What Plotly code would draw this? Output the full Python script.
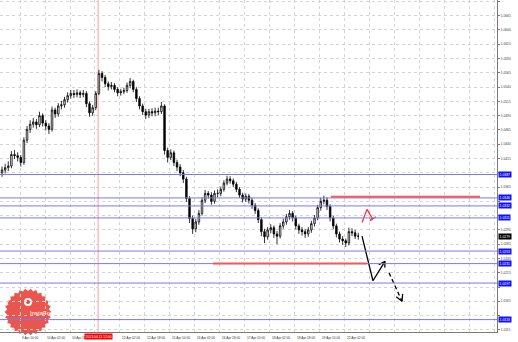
import math
import plotly.graph_objects as go

# ---------------- data (2-hour candles) ----------------
opens = [1.0390, 1.0395, 1.0399, 1.0402, 1.0422, 1.0420, 1.0417, 1.0408, 1.0447, 1.0466,
         1.0475, 1.0479, 1.0474, 1.0490, 1.0477, 1.0472, 1.0466, 1.0500, 1.0493, 1.0507,
         1.0509, 1.0518, 1.0525, 1.0529, 1.0527, 1.0530, 1.0527, 1.0529, 1.0511, 1.0495,
         1.0504, 1.0529, 1.0564, 1.0557, 1.0546, 1.0541, 1.0543, 1.0536, 1.0530, 1.0532,
         1.0534, 1.0543, 1.0550, 1.0536, 1.0520, 1.0507, 1.0497, 1.0491, 1.0497, 1.0495,
         1.0498, 1.0497, 1.0507, 1.0429, 1.0417, 1.0425, 1.0408, 1.0400, 1.0390, 1.0379,
         1.0345, 1.0310, 1.0292, 1.0304, 1.0319, 1.0342, 1.0354, 1.0351, 1.0340, 1.0354,
         1.0354, 1.0361, 1.0372, 1.0379, 1.0376, 1.0370, 1.0361, 1.0351, 1.0344, 1.0349,
         1.0342, 1.0333, 1.0324, 1.0308, 1.0287, 1.0278, 1.0290, 1.0294, 1.0283, 1.0279,
         1.0297, 1.0304, 1.0313, 1.0319, 1.0311, 1.0297, 1.0290, 1.0287, 1.0283, 1.0290,
         1.0301, 1.0311, 1.0329, 1.0340, 1.0342, 1.0331, 1.0311, 1.0297, 1.0283, 1.0274,
         1.0271, 1.0267, 1.0287, 1.0285, 1.0279]
highs = [1.0401, 1.0406, 1.0410, 1.0428, 1.0430, 1.0426, 1.0421, 1.0452, 1.0472, 1.0482,
         1.0486, 1.0484, 1.0497, 1.0494, 1.0482, 1.0477, 1.0506, 1.0504, 1.0512, 1.0516,
         1.0523, 1.0531, 1.0535, 1.0535, 1.0536, 1.0534, 1.0535, 1.0533, 1.0515, 1.0509,
         1.0533, 1.0570, 1.0568, 1.0561, 1.0550, 1.0549, 1.0547, 1.0540, 1.0537, 1.0539,
         1.0548, 1.0556, 1.0553, 1.0540, 1.0524, 1.0511, 1.0502, 1.0502, 1.0503, 1.0504,
         1.0504, 1.0514, 1.0510, 1.0434, 1.0431, 1.0429, 1.0413, 1.0405, 1.0395, 1.0383,
         1.0349, 1.0315, 1.0309, 1.0325, 1.0347, 1.0360, 1.0358, 1.0356, 1.0359, 1.0361,
         1.0366, 1.0377, 1.0385, 1.0384, 1.0380, 1.0374, 1.0365, 1.0355, 1.0354, 1.0353,
         1.0346, 1.0337, 1.0328, 1.0312, 1.0292, 1.0295, 1.0300, 1.0298, 1.0288, 1.0302,
         1.0310, 1.0318, 1.0325, 1.0323, 1.0315, 1.0301, 1.0295, 1.0292, 1.0295, 1.0306,
         1.0316, 1.0334, 1.0346, 1.0350, 1.0347, 1.0335, 1.0315, 1.0301, 1.0287, 1.0279,
         1.0275, 1.0294, 1.0293, 1.0290, 1.0285]
lows = [1.0383, 1.0389, 1.0393, 1.0398, 1.0414, 1.0410, 1.0401, 1.0404, 1.0442, 1.0460,
        1.0469, 1.0467, 1.0470, 1.0471, 1.0464, 1.0458, 1.0462, 1.0486, 1.0488, 1.0501,
        1.0504, 1.0513, 1.0520, 1.0521, 1.0522, 1.0521, 1.0522, 1.0505, 1.0488, 1.0490,
        1.0500, 1.0526, 1.0550, 1.0540, 1.0534, 1.0536, 1.0531, 1.0524, 1.0525, 1.0528,
        1.0530, 1.0538, 1.0531, 1.0514, 1.0501, 1.0491, 1.0484, 1.0486, 1.0489, 1.0489,
        1.0491, 1.0493, 1.0422, 1.0408, 1.0412, 1.0402, 1.0393, 1.0384, 1.0372, 1.0339,
        1.0302, 1.0283, 1.0286, 1.0299, 1.0315, 1.0337, 1.0345, 1.0334, 1.0336, 1.0347,
        1.0349, 1.0357, 1.0368, 1.0371, 1.0365, 1.0356, 1.0346, 1.0338, 1.0339, 1.0336,
        1.0327, 1.0318, 1.0302, 1.0279, 1.0267, 1.0273, 1.0284, 1.0276, 1.0265, 1.0275,
        1.0292, 1.0299, 1.0308, 1.0305, 1.0291, 1.0283, 1.0280, 1.0276, 1.0278, 1.0285,
        1.0296, 1.0307, 1.0324, 1.0335, 1.0325, 1.0305, 1.0291, 1.0277, 1.0268, 1.0264,
        1.0260, 1.0263, 1.0279, 1.0274, 1.0273]
closes = [1.0395, 1.0399, 1.0402, 1.0422, 1.0420, 1.0417, 1.0408, 1.0447, 1.0466, 1.0475,
          1.0479, 1.0474, 1.0490, 1.0477, 1.0472, 1.0466, 1.0500, 1.0493, 1.0507, 1.0509,
          1.0518, 1.0525, 1.0529, 1.0527, 1.0530, 1.0527, 1.0529, 1.0511, 1.0495, 1.0504,
          1.0529, 1.0564, 1.0557, 1.0546, 1.0541, 1.0543, 1.0536, 1.0530, 1.0532, 1.0534,
          1.0543, 1.0550, 1.0536, 1.0520, 1.0507, 1.0497, 1.0491, 1.0497, 1.0495, 1.0498,
          1.0497, 1.0507, 1.0429, 1.0417, 1.0425, 1.0408, 1.0400, 1.0390, 1.0379, 1.0345,
          1.0310, 1.0292, 1.0304, 1.0319, 1.0342, 1.0354, 1.0351, 1.0340, 1.0354, 1.0354,
          1.0361, 1.0372, 1.0379, 1.0376, 1.0370, 1.0361, 1.0351, 1.0344, 1.0349, 1.0342,
          1.0333, 1.0324, 1.0308, 1.0287, 1.0278, 1.0290, 1.0294, 1.0283, 1.0279, 1.0297,
          1.0304, 1.0313, 1.0319, 1.0311, 1.0297, 1.0290, 1.0287, 1.0283, 1.0290, 1.0301,
          1.0311, 1.0329, 1.0340, 1.0342, 1.0331, 1.0311, 1.0297, 1.0283, 1.0274, 1.0271,
          1.0267, 1.0287, 1.0285, 1.0279, 1.0279]

# time labels every 16 hourly bars; the one under the red marker box is hidden (None)
time_labels = ["8 Apr 18:00", "9 Apr 10:00", "10 Apr 02:00", "10 Apr 18:00", None,
               "12 Apr 02:00", "12 Apr 18:00", "15 Apr 10:00", "16 Apr 02:00", "16 Apr 18:00",
               "17 Apr 10:00", "18 Apr 02:00", "18 Apr 18:00", "19 Apr 10:00", "22 Apr 02:00"]
price_ticks = [1.0690, 1.0665, 1.0640, 1.0615, 1.0590, 1.0565, 1.0540, 1.0515, 1.0490, 1.0465,
               1.0440, 1.0415, 1.0390, 1.0365, 1.0340, 1.0315, 1.0290, 1.0265, 1.0240, 1.0215,
               1.0190, 1.0165, 1.0140, 1.0115]
level_prices = [1.0387, 1.0346, 1.0332, 1.0311, 1.0253, 1.0231, 1.0197, 1.0133]
current_price = 1.0279
marker_label = "2013.04.11 12:00"
marker_hour = 66

# hand-drawn forecast (hour index, price)
fc_solid_x = [234.9, 241.9, 249.6]
fc_solid_y = [1.0279, 1.0201, 1.0235]
fc_head1_x = [245.6, 249.6, 249.5]
fc_head1_y = [1.0229, 1.0235, 1.0224]
fc_dash_x = [252.2, 260.5]
fc_dash_y = [1.0215, 1.0165]
fc_head2_x = [256.8, 260.5, 260.9]
fc_head2_y = [1.0173, 1.0165, 1.0178]
red_zig_x = [234.9, 238.1, 241.3, 240.0, 243.8]
red_zig_y = [1.0303, 1.0326, 1.0311, 1.0306, 1.0313]
red_up = dict(x0=215, x1=310.4, y=1.0348)
red_dn = dict(x0=139.5, x1=238.1, y=1.0231)

# ---------------- figure ----------------
W, H = 518, 342
ML, MR, MT, MB = 0, 21, 0, 10
PW, PH = W - ML - MR, H - MT - MB
XR = [3.2, 321.3]
YR = [1.01113, 1.06925]
FONT = "Liberation Sans"
PX_PER_PRICE = PH / (YR[1] - YR[0])

bar_x = [4.5 + 2 * i for i in range(len(closes))]

fig = go.Figure()
fig.add_trace(go.Candlestick(
    x=bar_x, open=opens, high=highs, low=lows, close=closes,
    increasing=dict(line=dict(color="black", width=0.8), fillcolor="white"),
    decreasing=dict(line=dict(color="black", width=0.8), fillcolor="black"),
    whiskerwidth=0, hoverinfo="skip"))

line_kw = dict(mode="lines", hoverinfo="skip", showlegend=False)
fig.add_trace(go.Scatter(x=fc_solid_x, y=fc_solid_y, line=dict(color="black", width=1.3), **line_kw))
fig.add_trace(go.Scatter(x=fc_head1_x, y=fc_head1_y, line=dict(color="black", width=1.3), **line_kw))
fig.add_trace(go.Scatter(x=fc_dash_x, y=fc_dash_y, line=dict(color="black", width=1.3, dash="4px,3px"), **line_kw))
fig.add_trace(go.Scatter(x=fc_head2_x, y=fc_head2_y, line=dict(color="black", width=1.3), **line_kw))
fig.add_trace(go.Scatter(x=red_zig_x, y=red_zig_y, line=dict(color="#ff3030", width=1.3), **line_kw))

shapes = []
for lp in level_prices:
    shapes.append(dict(type="line", xref="paper", x0=0, x1=1, yref="y", y0=lp, y1=lp,
                       line=dict(color="#7878f2", width=1), layer="above"))
shapes.append(dict(type="line", xref="x", x0=marker_hour, x1=marker_hour, yref="paper", y0=0, y1=1,
                   line=dict(color="#ff9c9c", width=1), layer="between"))
for r in (red_up, red_dn):
    shapes.append(dict(type="line", xref="x", x0=r["x0"], x1=r["x1"], yref="y", y0=r["y"], y1=r["y"],
                       line=dict(color="#f05a5a", width=2), layer="above"))

# InstaForex badge (decoration)
cxp, cyp, ro, ri, n = 28, 312, 23.5, 21, 26
pts = []
for k in range(2 * n):
    a = math.pi * k / n
    r = ro if k % 2 == 0 else ri
    px, py = cxp + r * math.cos(a), cyp + r * math.sin(a)
    pts.append((px / PW, (PH - py) / PH))
path = "M " + " L ".join(f"{x:.4f},{y:.4f}" for x, y in pts) + " Z"
shapes.append(dict(type="path", xref="paper", yref="paper", path=path,
                   fillcolor="#e8463f", line=dict(width=0), opacity=0.92, layer="between"))
shapes.append(dict(type="circle", xref="paper", yref="paper",
                   x0=(cxp - 4) / PW, x1=(cxp + 4) / PW, y0=(PH - 306) / PH, y1=(PH - 298) / PH,
                   fillcolor="white", line=dict(width=0), layer="between"))
shapes.append(dict(type="circle", xref="paper", yref="paper",
                   x0=(cxp - 2) / PW, x1=(cxp + 2) / PW, y0=(PH - 304) / PH, y1=(PH - 300) / PH,
                   fillcolor="#e8463f", line=dict(width=0), layer="between"))

annotations = []
for k, lab in enumerate(time_labels):
    if lab is None:
        continue
    annotations.append(dict(x=16 * k, xref="x", y=0, yref="paper", yanchor="top", xanchor="left",
                            yshift=-1.5, text=lab, showarrow=False,
                            font=dict(size=3.2, color="#303030", family=FONT)))
box_prices = level_prices + [current_price]
for lp in level_prices:
    annotations.append(dict(x=1, xref="paper", xanchor="left", xshift=0.5, y=lp, yref="y",
                            text=f"{lp:.4f}", showarrow=False, bgcolor="#1010ff",
                            font=dict(size=3.4, color="white", family=FONT), borderpad=0.6))
annotations.append(dict(x=1, xref="paper", xanchor="left", xshift=0.5, y=current_price, yref="y",
                        text=f"{current_price:.4f}", showarrow=False, bgcolor="black",
                        font=dict(size=3.4, color="white", family=FONT), borderpad=0.6))
annotations.append(dict(x=marker_hour, xref="x", y=0, yref="paper", yanchor="top", xanchor="center",
                        yshift=-1, text=marker_label, showarrow=False, bgcolor="#ff0000",
                        font=dict(size=3.4, color="white", family=FONT), borderpad=0.6))
annotations.append(dict(x=cxp / PW, xref="paper", y=(PH - 318) / PH, yref="paper",
                        text="InstaForex", showarrow=False,
                        font=dict(size=6, color="white", family=FONT)))

# price labels covered by the level boxes are not shown (as in the terminal)
tick_text = []
for v in price_ticks:
    covered = any(abs(v - b) * PX_PER_PRICE < 4.5 for b in box_prices)
    tick_text.append("" if covered else f"{v:.4f}")

fig.update_layout(
    width=W, height=H, margin=dict(l=ML, r=MR, t=MT, b=MB),
    paper_bgcolor="white", plot_bgcolor="white", showlegend=False,
    shapes=shapes, annotations=annotations,
    xaxis=dict(range=XR, tickvals=[16 * k for k in range(21)], showticklabels=False,
               showgrid=True, gridcolor="#d4d4d4", griddash="dot", gridwidth=1,
               zeroline=False, showline=True, mirror=True, linecolor="#7a7a7a", linewidth=1,
               ticks="", rangeslider=dict(visible=False), fixedrange=True),
    yaxis=dict(range=YR, side="right", tickvals=price_ticks, ticktext=tick_text,
               tickfont=dict(size=3.3, color="#404040", family=FONT),
               showgrid=True, gridcolor="#d4d4d4", griddash="dot", gridwidth=1,
               zeroline=False, showline=True, mirror=True, linecolor="#7a7a7a", linewidth=1,
               ticks="outside", ticklen=2, tickcolor="#7a7a7a", fixedrange=True),
)

fig.write_html("out.html")
